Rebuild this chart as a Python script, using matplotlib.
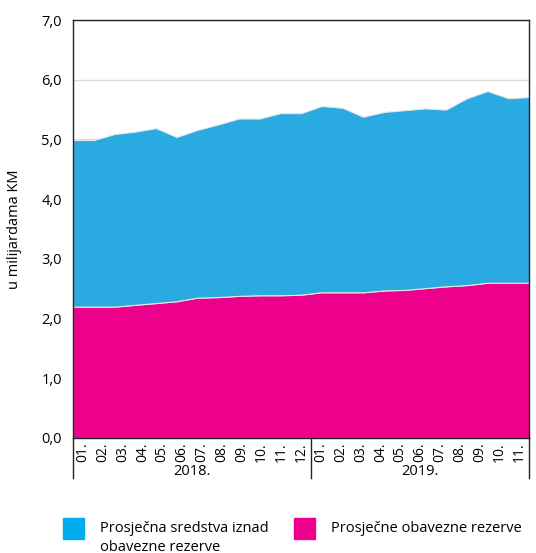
import numpy as np
import matplotlib.pyplot as plt
import matplotlib.transforms as mtransforms

months = ['01.', '02.', '03.', '04.', '05.', '06.', '07.', '08.', '09.', '10.', '11.', '12.',
          '01.', '02.', '03.', '04.', '05.', '06.', '07.', '08.', '09.', '10.', '11.']
years = ['2018.', '2019.']
year_counts = [12, 11]

# prosjecne obavezne rezerve (donji sloj)
obavezne = [2.20, 2.20, 2.20, 2.23, 2.26, 2.29, 2.35, 2.36, 2.38, 2.39, 2.39, 2.40,
            2.44, 2.44, 2.44, 2.47, 2.48, 2.51, 2.54, 2.56, 2.60, 2.60, 2.60]
# ukupno (gornja granica plavog sloja)
ukupno = [4.99, 4.99, 5.09, 5.13, 5.19, 5.04, 5.16, 5.25, 5.35, 5.35, 5.44, 5.44,
          5.56, 5.53, 5.38, 5.46, 5.49, 5.52, 5.50, 5.69, 5.81, 5.69, 5.71]
iznad = [u - o for u, o in zip(ukupno, obavezne)]

plt.rcParams['font.family'] = ['Open Sans', 'DejaVu Sans']

blue = '#29abe2'
pink = '#ec008c'

fig = plt.figure(figsize=(5.36, 5.53), dpi=100)
ax = fig.add_axes([0.1362, 0.208, 0.8508, 0.7558])

n = len(months)
x = np.arange(n) * n / (n - 1)

ax.stackplot(x, obavezne, iznad, colors=[pink, blue], edgecolor='#e6e6e6', linewidth=0.8, zorder=2)

ax.set_xlim(0, n)
ax.set_ylim(0, 7)
ax.set_yticks(np.arange(0, 7.1, 1))
ax.set_yticklabels([f'{v:.1f}'.replace('.', ',') for v in np.arange(0, 7.1, 1)], fontsize=10.5)
ax.grid(axis='y', color='#dddddd', linewidth=1, zorder=0)
ax.set_axisbelow(True)

ax.set_xticks(np.arange(n) + 0.5)
ax.set_xticklabels(months, rotation=90, fontsize=10)
ax.tick_params(axis='x', length=0, pad=3)
ax.tick_params(axis='y', length=0, pad=8)

for s in ax.spines.values():
    s.set_color('#222222')
    s.set_linewidth(1)

ax.set_ylabel('u milijardama KM', fontsize=10.5, labelpad=14)

# razdjelnici godina ispod osi
trans = mtransforms.blended_transform_factory(ax.transData, ax.transAxes)
bounds = [0, year_counts[0], n]
for b in bounds:
    ax.plot([b, b], [0, -0.096], color='#222222', linewidth=1, transform=trans, clip_on=False)
start = 0
for yr, cnt in zip(years, year_counts):
    ax.text(start + cnt / 2, -0.062, yr, transform=trans, ha='center', va='top', fontsize=10.5)
    start += cnt

# legenda
fig.patches.append(plt.Rectangle((63 / 536, 1 - 539 / 553), 21 / 536, 21 / 553,
                                 transform=fig.transFigure, color='#00aeef'))
fig.text(100 / 536, 1 - 538 / 553, 'Prosječna sredstva iznad\nobavezne rezerve',
         fontsize=10.5, va='center', linespacing=1.45)
fig.patches.append(plt.Rectangle((294 / 536, 1 - 539 / 553), 21 / 536, 21 / 553,
                                 transform=fig.transFigure, color=pink))
fig.text(331 / 536, 1 - 528 / 553, 'Prosječne obavezne rezerve', fontsize=10.5, va='center')

fig.savefig('out.png', dpi=100)
